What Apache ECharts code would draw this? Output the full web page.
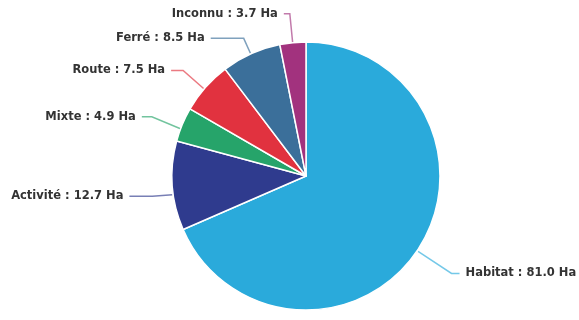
<!DOCTYPE html>
<html><head><meta charset="utf-8">
<script src="https://cdn.jsdelivr.net/npm/echarts@6/dist/echarts.min.js"></script>
<style>html,body{margin:0;padding:0;background:#fff}#c{width:579px;height:320px}</style>
</head><body><div id="c"></div>
<script>
const categories = ['Habitat', 'Activité', 'Mixte', 'Route', 'Ferré', 'Inconnu'];
const values = [81.0, 12.7, 4.9, 7.5, 8.5, 3.7];
const colors = ['#2aaadb', '#2f3b8e', '#26a46a', '#e1323f', '#3b6f9a', '#a2327e'];
// leader line styling per slice
const lineLen = [40, 20, 33, 30, 18, 31];
const lineLen2 = [8, 18, 4, 5, 25, 6];
const labelShiftX = [0, -5, -6, -7, -8, 0];
const labelShiftY = [2, 9, 5, 3, 1, 2];

const chart = echarts.init(document.getElementById('c'));
chart.setOption({
  animation: false,
  backgroundColor: '#fff',
  series: [{
    type: 'pie',
    center: [306, 176],
    radius: 134,
    startAngle: 90,
    clockwise: true,
    avoidLabelOverlap: false,
    data: categories.map((n, i) => ({
      name: n, value: values[i],
      itemStyle: {color: colors[i]},
      labelLine: {length: lineLen[i], length2: lineLen2[i]}
    })),
    itemStyle: {borderColor: '#fff', borderWidth: 1.5},
    label: {
      formatter: p => p.name + ' : ' + p.value.toFixed(1) + ' Ha',
      color: '#333', fontFamily: 'DejaVu Sans', fontWeight: 'bold', fontSize: 11.5,
      distanceToLabelLine: 6
    },
    labelLine: {lineStyle: {width: 1.5, opacity: 0.65}},
    labelLayout: function (p) {
      const i = p.dataIndex;
      const dx = labelShiftX[i], dy = labelShiftY[i];
      const r = p.labelRect;
      const right = p.align === 'right';
      const pts = (p.labelLinePoints || []).map((q, k) => [q[0] + (k === 2 ? dx : 0), q[1] + dy]);
      return {
        x: (right ? r.x + r.width : r.x) + dx,
        y: r.y + r.height / 2 + dy,
        align: right ? 'right' : 'left',
        verticalAlign: 'middle',
        labelLinePoints: pts
      };
    }
  }]
});
</script></body></html>
